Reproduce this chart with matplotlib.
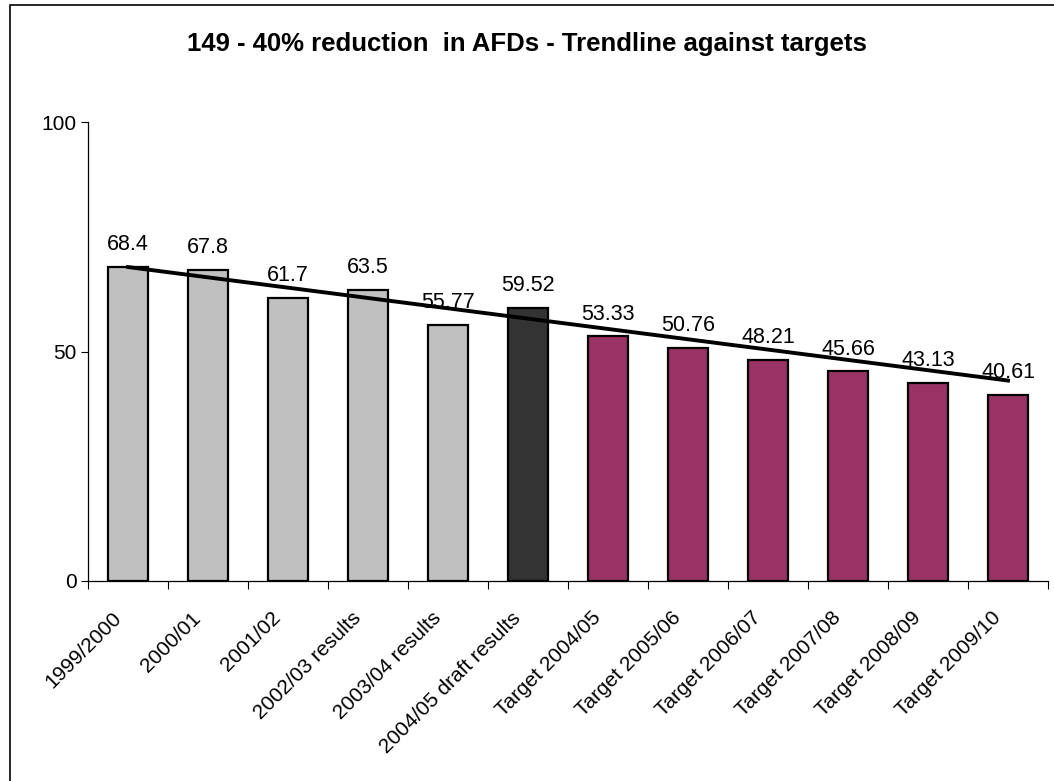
import numpy as np
import matplotlib.pyplot as plt
from matplotlib.patches import Rectangle
import matplotlib.transforms as mtransforms

plt.rcParams['font.family'] = ['Liberation Sans', 'DejaVu Sans']

categories = ['1999/2000', '2000/01', '2001/02', '2002/03 results', '2003/04 results',
              '2004/05 draft results', 'Target 2004/05', 'Target 2005/06', 'Target 2006/07',
              'Target 2007/08', 'Target 2008/09', 'Target 2009/10']
values = [68.4, 67.8, 61.7, 63.5, 55.77, 59.52, 53.33, 50.76, 48.21, 45.66, 43.13, 40.61]
labels = ['68.4', '67.8', '61.7', '63.5', '55.77', '59.52', '53.33', '50.76', '48.21',
          '45.66', '43.13', '40.61']
# 0 = past results, 1 = draft result, 2 = target
kind = [0, 0, 0, 0, 0, 1, 2, 2, 2, 2, 2, 2]
colors = {0: '#C0C0C0', 1: '#333333', 2: '#993366'}

W, H = 1054, 781
fig = plt.figure(figsize=(W / 100, H / 100), dpi=100)
fig.patches.append(Rectangle((10 / W, -0.1), 1.2, 1.1 - 5 / H, transform=fig.transFigure,
                             fill=False, edgecolor='black', linewidth=1.2))

ax = fig.add_axes([88 / W, 1 - 581 / H, 960 / W, 459 / H])
x = np.arange(len(values))
ax.bar(x, values, width=0.5, color=[colors[k] for k in kind], edgecolor='black',
       linewidth=1.6, zorder=2)

# linear trend fitted on the six actual results, extended over the targets
actual = [i for i, k in enumerate(kind) if k < 2]
b = np.polyfit(x[actual], np.array(values)[actual], 1)
ax.plot(x, np.polyval(b, x), color='black', linewidth=2.8, zorder=3)

for xi, v, lab in zip(x, values, labels):
    ax.annotate(lab, (xi, v), xytext=(0, 12), textcoords='offset points',
                ha='center', va='baseline', fontsize=15.5, zorder=4)

ax.set_xlim(-0.5, len(values) - 0.5)
ax.set_ylim(0, 100)
ax.set_yticks([0, 50, 100])
ax.tick_params(axis='y', labelsize=15, length=5, width=0.8, direction='out', pad=3)

ax.set_xticks(np.arange(len(values) + 1) - 0.5)
ax.set_xticklabels([])
ax.set_xticks(x, minor=True)
ax.set_xticklabels(categories, minor=True, rotation=45, ha='right', va='center',
                   rotation_mode='anchor', fontsize=15)
ax.tick_params(axis='x', which='major', length=6, width=0.8, direction='out')
ax.tick_params(axis='x', which='minor', length=0, pad=0)
offset = mtransforms.ScaledTranslation(-10 / 100, -34 / 100, fig.dpi_scale_trans)
for t in ax.get_xticklabels(minor=True):
    t.set_transform(t.get_transform() + offset)

for s in ['top', 'right']:
    ax.spines[s].set_visible(False)
for s in ['left', 'bottom']:
    ax.spines[s].set_linewidth(0.9)

fig.text(0.5, 1 - 44 / H, '149 - 40% reduction  in AFDs - Trendline against targets',
         ha='center', va='center', fontsize=18.5, fontweight='bold')

fig.savefig('out.png', dpi=100)
